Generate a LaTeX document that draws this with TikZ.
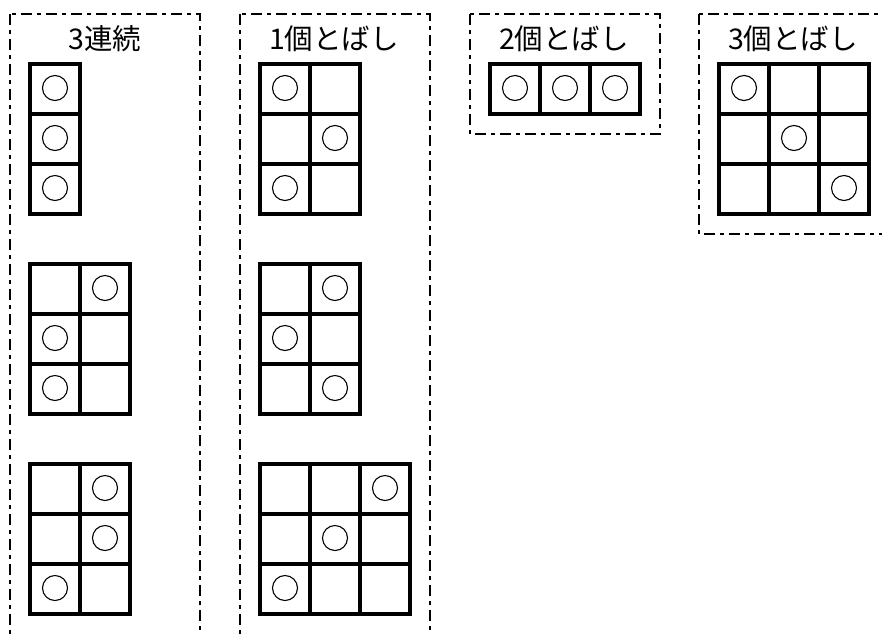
\documentclass[tikz,border=0pt]{standalone}
\usepackage{fontspec}
\newfontfamily\jpfont{Noto Sans CJK JP}
\tikzset{
  frame/.style={line width=2.3pt, dash pattern=on 11pt off 5pt on 4pt off 5pt},
  cellline/.style={line width=3.2pt},
  mk/.style={line width=1.1pt},
  ttl/.style={font=\jpfont\fontsize{28.5}{32}\selectfont, inner sep=0pt, anchor=center}
}
\newcommand\mygrid[4]{% x0, y0, cols, rows
  \foreach \i in {1,...,#3}{\foreach \j in {1,...,#4}{
    \draw[cellline] ({#1+(\i-1)*50},{#2+(\j-1)*50}) rectangle ++(50,50);}}}
\newcommand\mymark[4]{% x0,y0,col,row
  \draw[mk] ({#1+#3*50+25},{#2+#4*50+24}) circle[radius=12.5];}
\begin{document}
\begin{tikzpicture}[x=1pt,y=-1pt]
\useasboundingbox (0,0) rectangle (882,633);
\begin{scope}
\clip (0,0) rectangle (882,633);
% frames
\draw[frame] (10,14) rectangle (200,660);
\draw[frame] (240,14) rectangle (430,660);
\draw[frame] (470,14) rectangle (660,134);
\draw[frame] (699,14) rectangle (889,234);
% titles
\node[ttl] (t1) at (105,39) {3連続};
\node[ttl] (t2) at (334,39) {1個とばし};
\node[ttl] (t3) at (564,39) {2個とばし};
\node[ttl] (t4) at (793,39) {3個とばし};
% box 1
\mygrid{30}{64}{1}{3}
\mymark{30}{64}{0}{0}\mymark{30}{64}{0}{1}\mymark{30}{64}{0}{2}
\mygrid{30}{264}{2}{3}
\mymark{30}{264}{1}{0}\mymark{30}{264}{0}{1}\mymark{30}{264}{0}{2}
\mygrid{30}{464}{2}{3}
\mymark{30}{464}{1}{0}\mymark{30}{464}{1}{1}\mymark{30}{464}{0}{2}
% box 2
\mygrid{260}{64}{2}{3}
\mymark{260}{64}{0}{0}\mymark{260}{64}{1}{1}\mymark{260}{64}{0}{2}
\mygrid{260}{264}{2}{3}
\mymark{260}{264}{1}{0}\mymark{260}{264}{0}{1}\mymark{260}{264}{1}{2}
\mygrid{260}{464}{3}{3}
\mymark{260}{464}{2}{0}\mymark{260}{464}{1}{1}\mymark{260}{464}{0}{2}
% box 3
\mygrid{490}{64}{3}{1}
\mymark{490}{64}{0}{0}\mymark{490}{64}{1}{0}\mymark{490}{64}{2}{0}
% box 4
\mygrid{719}{64}{3}{3}
\mymark{719}{64}{0}{0}\mymark{719}{64}{1}{1}\mymark{719}{64}{2}{2}
\end{scope}
\end{tikzpicture}
\end{document}
